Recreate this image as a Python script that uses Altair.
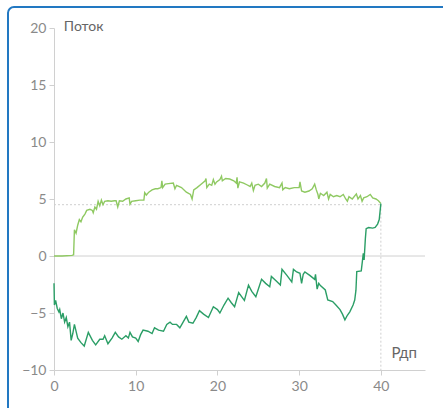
import altair as alt
import pandas as pd

# Light green series (upper)
x_up = [0, 1, 2.2, 2.4, 2.5, 2.7, 2.9, 3.1, 3.3, 3.5, 3.8, 4.0, 4.4, 4.7, 4.8, 5.0, 5.2, 5.4, 5.6, 5.8,
        6.0, 6.2, 6.6, 7.0, 7.4, 7.6, 7.8, 8.0, 8.4, 8.8, 9.2, 9.3, 9.5, 10.0, 10.5, 11.0, 11.1, 11.3, 11.6, 12.0,
        12.4, 12.7, 13.1, 13.2, 13.3, 13.6, 14.0, 14.6, 14.8, 15.0, 15.6, 16.2, 16.7, 16.9, 17.1, 17.5, 18.0, 18.5, 18.6, 18.7,
        19.0, 19.3, 19.5, 19.7, 19.9, 20.3, 20.5, 20.6, 21.0, 21.5, 22.0, 22.3, 22.4, 22.5, 22.7, 23.2, 23.6, 24.0, 24.2, 24.4,
        24.6, 25.0, 25.4, 25.8, 26.0, 26.1, 26.4, 27.0, 27.6, 27.9, 28.0, 28.3, 28.8, 29.4, 30.0, 30.1, 30.3, 30.7, 31.2, 31.6,
        31.9, 32.1, 32.3, 32.4, 32.6, 33.0, 33.4, 33.6, 33.8, 34.2, 34.6, 35.0, 35.4, 35.7, 35.9, 36.1, 36.5, 37.0, 37.2, 37.5,
        37.7, 37.9, 38.3, 38.7, 39.0, 39.4, 39.7, 40.0]
y_up = [0, 0, 0.05, 0.1, 2.3, 2.0, 2.7, 3.2, 3.0, 3.4, 3.7, 4.0, 4.1, 4.0, 3.8, 4.3, 4.1, 4.8, 4.4, 4.9,
        4.5, 4.8, 4.85, 4.8, 4.85, 4.85, 4.3, 4.85, 4.8, 5.0, 5.1, 4.55, 4.8, 4.85, 4.9, 4.9, 5.55, 5.35, 5.6, 5.8,
        5.9, 5.9, 6.0, 6.6, 6.0, 6.3, 6.35, 6.4, 5.9, 6.2, 6.0, 5.6, 5.4, 5.0, 5.8, 6.0, 6.3, 6.6, 6.8, 6.0,
        6.3, 6.2, 6.7, 6.3, 6.5, 6.7, 7.0, 6.6, 6.8, 6.75, 6.6, 6.4, 6.9, 5.95, 6.5, 6.4, 6.25, 6.1, 6.4, 5.75,
        6.2, 6.3, 6.1, 6.4, 6.8, 5.95, 6.3, 6.1, 6.0, 6.4, 5.8, 6.0, 5.9, 6.0, 6.0, 6.5, 5.7, 5.6, 5.7, 5.9,
        6.3, 5.8, 5.4, 5.0, 5.5, 5.3, 5.6, 5.0, 5.4, 5.2, 5.3, 5.2, 5.4, 5.0, 4.8, 5.2, 5.0, 5.45, 5.0, 5.3,
        4.8, 5.1, 5.2, 5.4, 5.1, 5.0, 4.85, 4.6]

# Dark green series (lower)
x_dn = [0, 0.05, 0.2, 0.4, 0.6, 0.7, 0.9, 1.1, 1.3, 1.5, 1.7, 1.9, 2.1, 2.3, 2.5, 2.9, 3.3, 3.7, 4.2, 4.7,
        5.1, 5.6, 6.0, 6.2, 6.6, 7.1, 7.5, 7.9, 8.3, 8.8, 9.1, 9.3, 9.6, 10.0, 10.3, 10.6, 10.9, 11.5, 12.0, 12.3,
        12.8, 13.4, 13.8, 14.2, 14.5, 15.0, 15.4, 15.8, 16.2, 16.5, 17.0, 17.4, 17.8, 18.3, 18.9, 19.5, 20.0, 20.3, 20.8, 21.3,
        21.7, 22.1, 22.6, 23.0, 23.3, 23.8, 24.2, 24.7, 25.4, 25.9, 26.4, 26.6, 27.2, 27.7, 27.9, 28.5, 29.1, 29.3, 29.7, 30.1,
        30.3, 30.5, 30.7, 31.3, 31.9, 32.0, 32.2, 32.4, 32.6, 33.2, 33.5, 34.1, 34.5, 35.0, 35.3, 35.6, 35.9, 36.2, 36.6, 36.8,
        36.95, 37.05, 37.6, 37.85, 37.95, 38.1, 38.2, 38.5, 39.0, 39.3, 39.6, 39.8, 40.0]
y_dn = [-2.4, -4.3, -3.9, -4.6, -4.9, -4.7, -5.5, -5.0, -5.8, -5.4, -6.2, -5.8, -7.4, -6.8, -6.0, -7.2, -7.6, -7.9, -6.7, -7.4,
        -7.8, -7.3, -7.3, -7.0, -7.7, -7.2, -6.7, -7.1, -7.3, -7.0, -7.2, -6.7, -7.1, -7.2, -7.5, -6.9, -6.5, -6.6, -6.8, -6.3,
        -6.5, -6.6, -6.0, -5.8, -6.0, -6.0, -6.3, -5.8, -5.3, -5.8, -5.9, -5.4, -4.8, -5.1, -5.4, -4.45, -4.7, -5.0, -4.3, -3.7,
        -4.1, -4.45, -3.2, -3.6, -3.9, -2.55, -3.1, -3.57, -2.05, -2.4, -2.7, -1.8, -2.2, -2.55, -1.17, -1.7, -2.27, -1.17, -1.4, -1.52,
        -2.4, -1.6, -1.4, -1.7, -2.05, -1.6, -2.9, -2.4, -2.6, -2.98, -3.86, -4.0, -4.3, -4.7, -5.1, -5.6, -5.2, -4.9, -4.3, -3.86,
        -3.0, -1.37, -1.3, 0.23, -0.35, 1.5, 2.4, 2.5, 2.45, 2.5, 2.8, 3.2, 4.6]

x_ticks = [0, 10, 20, 30, 40]
y_ticks = [-10, -5, 0, 5, 10, 15, 20]
x_domain = [0, 45.4]
y_domain = [-10, 20]
cross_x = [0, 40]
cross_y = [4.5, -10]
y_title = "Поток"
x_title = "Рдп"

W, H = 371, 342
LABEL_FONT = "Lato"

up = pd.DataFrame({"x": x_up, "y": y_up, "i": range(len(x_up))})
dn = pd.DataFrame({"x": x_dn, "y": y_dn, "i": range(len(x_dn))})

xs = alt.Scale(domain=x_domain, nice=False, zero=False)
ys = alt.Scale(domain=y_domain, nice=False, zero=False)

xaxis = alt.Axis(values=x_ticks, title=None, grid=False, domainColor="#d0d0d0", tickColor="#d0d0d0",
                 tickSize=5, labelColor="#8a8a8a", labelFont=LABEL_FONT, labelFontSize=14, labelPadding=4,
                 labelFlush=False)
yaxis = alt.Axis(values=y_ticks, title=None, grid=False, domainColor="#d0d0d0", tickColor="#d0d0d0",
                 tickSize=5, labelColor="#8a8a8a", labelFont=LABEL_FONT, labelFontSize=14, labelPadding=3,
                 labelFlush=False)

frame = alt.Chart(pd.DataFrame({"a": [0]})).mark_rect(
    filled=False, stroke="#2278c2", strokeWidth=2, cornerRadius=6, fillOpacity=0
).encode(x=alt.value(-46), x2=alt.value(W + 60), y=alt.value(-21), y2=alt.value(H + 60))

zero = alt.Chart(pd.DataFrame({"y": [0]})).mark_rule(color="#d0d0d0", strokeWidth=1).encode(
    y=alt.Y("y:Q", scale=ys, axis=yaxis), x=alt.value(0), x2=alt.value(W))

hdot = alt.Chart(pd.DataFrame({"x": [cross_x[0]], "x2": [cross_x[1]], "y": [cross_y[0]]})).mark_rule(
    color="#cfcfcf", strokeDash=[2, 2], strokeWidth=1).encode(
    x=alt.X("x:Q", scale=xs, axis=xaxis), x2="x2:Q", y=alt.Y("y:Q", scale=ys))

vdot = alt.Chart(pd.DataFrame({"x": [cross_x[1]], "y": [cross_y[0]], "y2": [cross_y[1]]})).mark_rule(
    color="#cfcfcf", strokeDash=[2, 2], strokeWidth=1).encode(
    x=alt.X("x:Q", scale=xs), y=alt.Y("y:Q", scale=ys), y2="y2:Q")

line_up = alt.Chart(up).mark_line(color="#8fc962", strokeWidth=1.4).encode(
    x=alt.X("x:Q", scale=xs, axis=xaxis), y=alt.Y("y:Q", scale=ys, axis=yaxis), order="i:Q")
line_dn = alt.Chart(dn).mark_line(color="#2b9e66", strokeWidth=1.4).encode(
    x=alt.X("x:Q", scale=xs), y=alt.Y("y:Q", scale=ys), order="i:Q")

t_y = alt.Chart(pd.DataFrame({"x": [1.2], "y": [20], "t": [y_title]})).mark_text(
    align="left", baseline="middle", font=LABEL_FONT, fontSize=14, color="#666666", dy=-1).encode(
    x=alt.X("x:Q", scale=xs), y=alt.Y("y:Q", scale=ys), text="t:N")
t_x = alt.Chart(pd.DataFrame({"x": [41.3], "y": [-8.5], "t": [x_title]})).mark_text(
    align="left", baseline="middle", font=LABEL_FONT, fontSize=15, color="#666666").encode(
    x=alt.X("x:Q", scale=xs), y=alt.Y("y:Q", scale=ys), text="t:N")

chart = alt.layer(frame, zero, hdot, vdot, line_up, line_dn, t_y, t_x).properties(
    width=W, height=H,
    autosize=alt.AutoSizeParams(type="none"),
    padding={"left": 54, "top": 28, "right": 18, "bottom": 38},
    background="white",
).configure_view(stroke=None)

chart.save("out.html", embed_options={"renderer": "svg", "actions": False})
